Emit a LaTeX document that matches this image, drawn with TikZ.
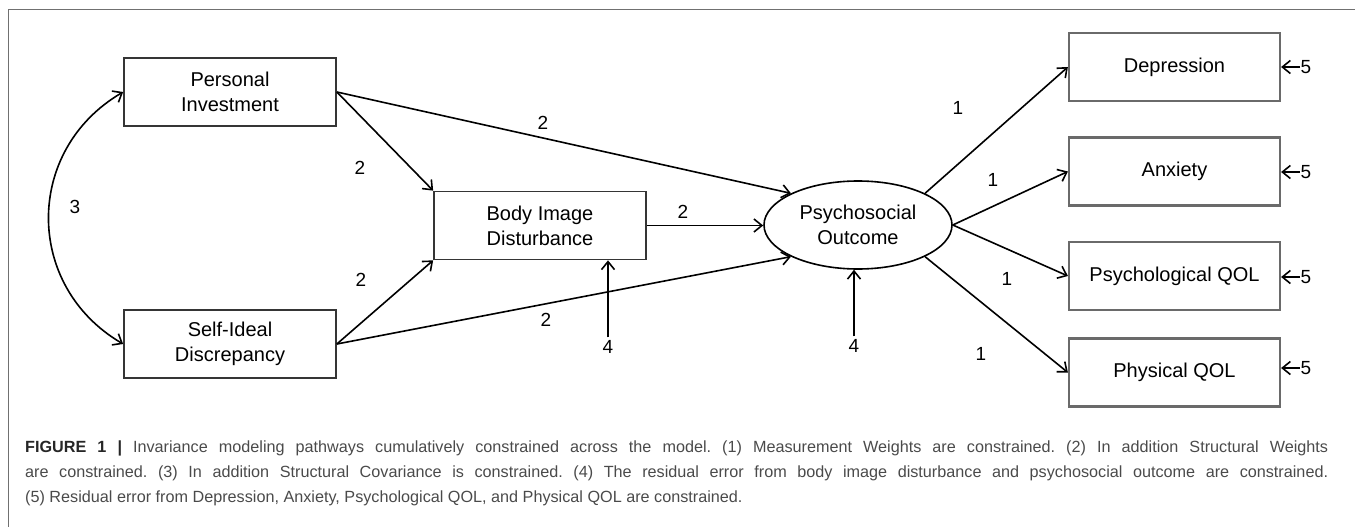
\documentclass[tikz,border=0pt]{standalone}
\usepackage{fontspec}
\setmainfont{Liberation Sans}
\usepackage{tikz}
\usetikzlibrary{arrows.meta}
\usetikzlibrary{shapes.geometric}
\frenchspacing
\definecolor{boxgray}{HTML}{353535}
\definecolor{indgray}{HTML}{6A6A6A}
\definecolor{capgray}{HTML}{4A4A4A}
\definecolor{framegray}{HTML}{707070}
\tikzset{
    var/.style={shape=rectangle, draw=boxgray, line width=1.7pt, minimum width=212pt, minimum height=68pt, align=center, font=\fontsize{20}{25}\selectfont},
    ind/.style={var, draw=indgray, line width=2.2pt, minimum width=211pt}}
\tikzset{
    latent/.style={shape=ellipse, draw=black, line width=1.6pt, minimum width=188pt, minimum height=88pt, inner sep=0pt, align=center, font=\fontsize{20}{25}\selectfont},
    num/.style={inner sep=0.5pt, font=\fontsize{19}{22}\selectfont},
    capline/.style={anchor=base west, inner sep=0pt, text=capgray, font=\fontsize{16.2}{19}\selectfont}}
\tikzset{
    arr/.style={line width=1.6pt, -{Straight Barb[length=8pt, width=13pt]}},
    covarr/.style={line width=1.6pt, {Straight Barb[length=8pt, width=13pt]}-{Straight Barb[length=8pt, width=13pt]}}}

\begin{document}
\begin{tikzpicture}[x=1pt, y=-1pt]
                    \useasboundingbox (0,0) rectangle (1355,527);
                    \draw[framegray, line width=1pt] (8,527) -- (8,10) -- (1355,10);

                    \node[var] (PI) at (230,92) {Personal\\Investment};
                    \node[var] (SD) at (230,344) {Self-Ideal\\Discrepancy};
                    \node[var] (BID) at (540,225.5) {Body Image\\Disturbance};
                    \node[latent] (PO) at (858,225) {Psychosocial\\Outcome};
                    \node[ind] (Dep) at (1174.5,67) {Depression};
                    \node[ind] (Anx) at (1174.5,171.5) {Anxiety};
                    \node[ind] (PsyQ) at (1174.5,276) {Psychological QOL};
                    \node[ind] (PhyQ) at (1174.5,372.5) {Physical QOL};

                    \node[num] (c1) at (75,207) {3};
                    \node[num] (w1) at (360,168) {2};
                    \node[num] (w2) at (361,280) {2};
                    \node[num] (w3) at (543,123) {2};
                    \node[num] (w4) at (683,212) {2};
                    \node[num] (w5) at (546,320) {2};
                    \node[num, inner sep=3pt] (r1) at (608,347) {4};
                    \node[num, inner sep=3pt] (r2) at (854,346) {4};
                    \node[num] (m1) at (958,108) {1};
                    \node[num] (m2) at (993,180) {1};
                    \node[num] (m3) at (1007,279) {1};
                    \node[num] (m4) at (981,354) {1};
                    \node[num] (e1) at (1306,67) {5};
                    \node[num] (e2) at (1306,172) {5};
                    \node[num] (e3) at (1306,277) {5};
                    \node[num] (e4) at (1306,368) {5};

                    \draw[covarr] (PI.west) .. controls +(-99,58) and +(-99,-58) .. (SD.west);
                    \draw[arr] (PI.east) -- (BID.north west);
                    \draw[arr] (SD.east) -- (BID.south west);
                    \draw[arr] (PI.east) -- (PO.north west);
                    \draw[arr] (SD.east) -- (PO.south west);
                    \draw[arr] (BID.east) -- (BID.east -| PO.west);
                    \draw[arr] (r1.north) -- (r1 |- BID.south);
                    \draw[arr] (r2.north) -- (r2 |- PO.south);
                    \draw[arr] (PO.north east) -- (Dep.west);
                    \draw[arr] (PO.east) -- (Anx.west);
                    \draw[arr] (PO.east) -- (PsyQ.west);
                    \draw[arr] (PO.south east) -- (PhyQ.west);
                    \draw[arr] (e1.west) -- (e1 -| Dep.east);
                    \draw[arr] (e2.west) -- (e2 -| Anx.east);
                    \draw[arr] (e3.west) -- (e3 -| PsyQ.east);
                    \draw[arr] (e4.west) -- (e4 -| PhyQ.east);

                    \node[capline] (cap1) at (25,452) {\makebox[1303pt][s]{\textbf{\color{black!85}FIGURE 1 |} Invariance modeling pathways cumulatively constrained across the model. (1) Measurement Weights are constrained. (2) In addition Structural Weights}};
                    \node[capline] (cap2) at (25,477) {\makebox[1303pt][s]{are constrained. (3) In addition Structural Covariance is constrained. (4) The residual error from body image disturbance and psychosocial outcome are constrained.}};
                    \node[capline] (cap3) at (25,502) {(5) Residual error from Depression, Anxiety, Psychological QOL, and Physical QOL are constrained.};

\end{tikzpicture}
\end{document}
